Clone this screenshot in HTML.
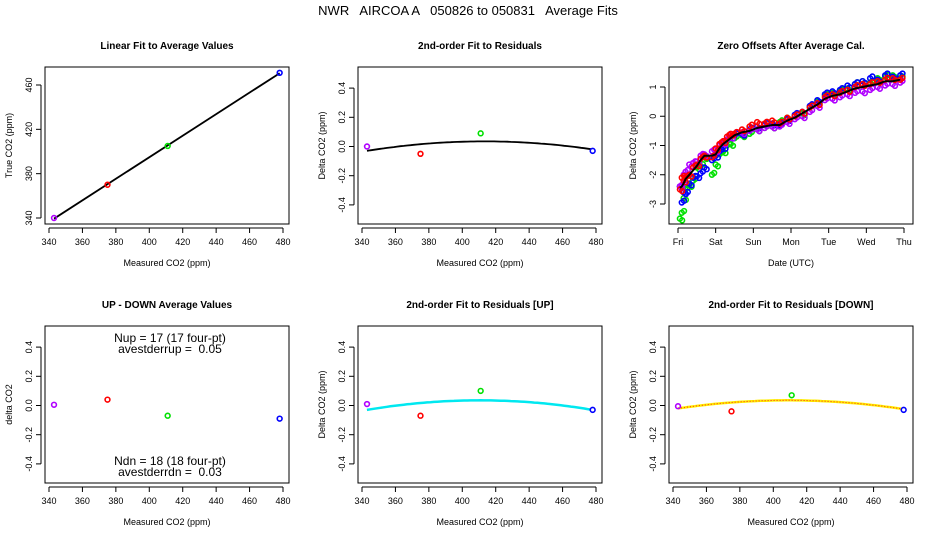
<!DOCTYPE html>
<html><head><meta charset="utf-8"><style>
html,body{margin:0;padding:0;background:#fff;}
svg{display:block;font-family:"Liberation Sans",sans-serif;}
</style></head><body>
<svg id="c" width="936" height="540" xmlns="http://www.w3.org/2000/svg">
<text x="468" y="15" text-anchor="middle" font-size="13" style="white-space:pre" xml:space="preserve">NWR   AIRCOA A   050826 to 050831   Average Fits</text>
</svg>
<script>
// Shared categories (measured CO2 averages per tank)
const measured = [343, 375, 411, 478];
const colors = ['#b000ff', '#ff0000', '#00e000', '#0000ff'];
// Panel 1: true vs measured
const trueVals = [340, 370, 405, 471];
// Panel 2: residuals
const resid = [0.00, -0.05, 0.09, -0.03];
const fitAll = [-0.03, 0.035, -0.02]; // values at 343, 415 (peak), 478
// Panel 4: up-down differences
const upDown = [0.005, 0.04, -0.07, -0.09];
// Panel 5: UP residuals
const residUp = [0.01, -0.07, 0.10, -0.03];
const fitUp = [-0.03, 0.035, -0.03];
// Panel 6: DOWN residuals
const residDn = [-0.005, -0.04, 0.07, -0.03];
const fitDn = [-0.02, 0.035, -0.025];
// Panel 3: zero offsets time series (days since Fri)
const days = [0.05,0.1,0.15,0.2,0.3,0.4,0.5,0.6,0.7,0.9,1.0,1.1,1.2,1.3,1.4,1.5,1.7,1.9,2.1,2.3,2.5,2.7,2.9,3.1,3.3,3.5,3.7,3.9,4.1,4.3,4.5,4.7,4.9,5.1,5.3,5.5,5.7,5.9];
const offBase = [-2.45,-2.4,-2.3,-2.15,-2.0,-1.85,-1.7,-1.5,-1.35,-1.35,-1.3,-1.1,-0.95,-0.85,-0.75,-0.65,-0.55,-0.5,-0.4,-0.35,-0.3,-0.3,-0.15,-0.05,0.1,0.25,0.4,0.6,0.7,0.75,0.85,0.95,1.0,1.05,1.1,1.2,1.2,1.25];
const offRed = [-2.5,-2.1,-2.2,-2.1,-2.0,-1.75,-1.65,-1.45,-1.35,-1.4,-1.1,-0.95,-0.85,-0.7,-0.6,-0.6,-0.45,-0.35,-0.2,-0.25,-0.15,-0.25,-0.05,0.0,0.15,0.3,0.45,0.65,0.75,0.8,0.9,1.0,1.1,1.1,1.2,1.25,1.3,1.25];
const offGreen = [-3.5,-3.3,-2.8,-2.5,-2.35,-2.2,-1.75,-1.7,-1.4,-2.0,-1.65,-1.3,-1.2,-1.0,-0.95,-0.75,-0.65,-0.6,-0.45,-0.4,-0.35,-0.2,-0.05,0.0,0.1,0.3,0.5,0.7,0.8,0.85,0.95,1.1,1.2,1.15,1.3,1.35,1.4,1.3];
const offBlue = [-2.4,-2.95,-2.6,-2.65,-2.3,-2.1,-2.05,-1.95,-1.75,-1.5,-1.35,-1.2,-1.05,-0.8,-0.7,-0.65,-0.6,-0.45,-0.35,-0.3,-0.25,-0.3,-0.1,0.05,0.15,0.35,0.55,0.75,0.85,0.9,1.05,1.1,1.2,1.3,1.25,1.4,1.35,1.4];
const offMag = [-2.4,-2.35,-2.0,-1.9,-1.65,-1.6,-1.55,-1.35,-1.3,-1.2,-1.15,-1.0,-0.9,-0.8,-0.7,-0.6,-0.55,-0.5,-0.45,-0.4,-0.35,-0.35,-0.2,-0.1,0.0,0.15,0.35,0.55,0.6,0.65,0.75,0.8,0.85,0.9,1.0,1.05,1.1,1.15];
const dayLabels = ['Fri','Sat','Sun','Mon','Tue','Wed','Thu'];
const co2Ticks = [340,360,380,400,420,440,460,480];
const residTicks = ['-0.4','-0.2','0.0','0.2','0.4'];
const trueTicks = [340,380,420,460];
const offTicks = [-3,-2,-1,0,1];

const NS='http://www.w3.org/2000/svg';
const svg=document.getElementById('c');
function mk(tag,attrs,parent){const e=document.createElementNS(NS,tag);for(const k in attrs)e.setAttribute(k,attrs[k]);(parent||svg).appendChild(e);return e;}

function panel(left,top,name,title,xlab,ylab){
  const g=mk('g',{});
  
  
  const W=244,H=157;
  const box=mk('rect',{x:left,y:top,width:W,height:H,fill:'none',stroke:'#000','stroke-width':1},g);
  
  
  const t=mk('text',{x:left+W/2,y:top-18,'text-anchor':'middle','font-size':10,'font-weight':'bold'},g);t.textContent=title;
  
  
  const xl=mk('text',{x:left+W/2,y:top+H+42,'text-anchor':'middle','font-size':9},g);xl.textContent=xlab;
  
  
  const yl=mk('text',{x:0,y:0,'text-anchor':'middle','font-size':9,transform:`translate(${left-33},${top+H/2}) rotate(-90)`},g);yl.textContent=ylab;
  
  
  return {g,left,top,W,H};
}
function xTicks(p,vals,labels,sx){
  const xs=vals.map(sx);
  mk('line',{x1:xs[0],x2:xs[xs.length-1],y1:p.top+p.H+4,y2:p.top+p.H+4,stroke:'#000'},p.g);
  vals.forEach((v,i)=>{const x=sx(v);mk('line',{x1:x,x2:x,y1:p.top+p.H+4,y2:p.top+p.H+9,stroke:'#000'},p.g);
    const t=mk('text',{x:x,y:p.top+p.H+21,'text-anchor':'middle','font-size':9},p.g);t.textContent=labels[i];
    
    });
}
function yTicks(p,vals,labels,sy){
  const ys=vals.map(sy);
  mk('line',{x1:p.left-4,x2:p.left-4,y1:ys[0],y2:ys[ys.length-1],stroke:'#000'},p.g);
  vals.forEach((v,i)=>{const y=sy(v);mk('line',{x1:p.left-9,x2:p.left-4,y1:y,y2:y,stroke:'#000'},p.g);
    const t=mk('text',{x:0,y:0,'text-anchor':'middle','font-size':9,transform:`translate(${p.left-13},${y}) rotate(-90)`},p.g);t.textContent=labels[i];
    
    });
}
function pt(p,x,y,col,name){
  const c=mk('circle',{cx:x,cy:y,r:2.4,fill:'none',stroke:col,'stroke-width':1.6},p.g);
  
  
}
function quad(f){ // quadratic through (343,f0),(415,f1),(478,f2)
  const xs=[343,415,478];
  return x=>{let s=0;for(let i=0;i<3;i++){let l=1;for(let j=0;j<3;j++)if(j!==i)l*=(x-xs[j])/(xs[i]-xs[j]);s+=f[i]*l;}return s;};
}
function curve(p,sx,sy,f,stroke,w,dash){
  let d='';for(let x=343;x<=478;x+=2){d+=(d?'L':'M')+sx(x).toFixed(1)+','+sy(f(x)).toFixed(1);}
  const e=mk('path',{d,fill:'none',stroke,'stroke-width':w},p.g);
  if(dash)e.setAttribute('stroke-dasharray',dash);
  
  
  return e;
}
function residPanel(left,top,name,title,vals,fit,style,ylab){
  const p=panel(left,top,name,title,'Measured CO2 (ppm)',ylab);
  const sx=v=>left+4+(v-340)*234/140, sy=v=>top+79.5-v*146;
  xTicks(p,co2Ticks,co2Ticks.map(String),sx);
  yTicks(p,residTicks.map(Number),residTicks,sy);
  if(fit){const f=quad(fit);
    if(style==='black')curve(p,sx,sy,f,'#000',1.8);
    if(style==='cyan'){curve(p,sx,sy,f,'#000',1.5);curve(p,sx,sy,f,'#00e8f0',2.5);}
    if(style==='yellow'){curve(p,sx,sy,f,'#000',1.5);curve(p,sx,sy,f,'#ffee00',2.5);curve(p,sx,sy,f,'#ff2020',1,'1,2');}
  }
  vals.forEach((v,i)=>pt(p,sx(measured[i]),sy(v),colors[i],'point-'+measured[i]));
  return {p,sx,sy};
}

// Panel 1
(function(){
  const p=panel(45,67,'linear-fit-panel','Linear Fit to Average Values','Measured CO2 (ppm)','True CO2 (ppm)');
  const sx=v=>49+(v-340)*234/140, sy=v=>218-(v-340)*133/120;
  xTicks(p,co2Ticks,co2Ticks.map(String),sx);
  yTicks(p,trueTicks,trueTicks.map(String),sy);
  const n=measured.length;let mx=0,my=0;measured.forEach((m,i)=>{mx+=m;my+=trueVals[i];});mx/=n;my/=n;
  let sxy=0,sxx=0;measured.forEach((m,i)=>{sxy+=(m-mx)*(trueVals[i]-my);sxx+=(m-mx)*(m-mx);});
  const b=sxy/sxx,a=my-b*mx;
  const l=mk('line',{x1:sx(343),y1:sy(a+b*343),x2:sx(478),y2:sy(a+b*478),stroke:'#000','stroke-width':1.8},p.g);
  
  
  measured.forEach((m,i)=>pt(p,sx(m),sy(trueVals[i]),colors[i],'point-'+m));
})();

// Panel 2
residPanel(358,67,'residual-fit-panel','2nd-order Fit to Residuals',resid,fitAll,'black','Delta CO2 (ppm)');

// Panel 3
(function(){
  const p=panel(669,67,'zero-offsets-panel','Zero Offsets After Average Cal.','Date (UTC)','Delta CO2 (ppm)');
  const sx=d=>678+d*226/6, sy=v=>116.25-v*29.25;
  xTicks(p,dayLabels.map((_,i)=>i),dayLabels,sx);
  yTicks(p,offTicks,offTicks.map(String),sy);
  const series=[offMag,offRed,offGreen,offBlue];
  const order=[2,3,0,1];
  order.forEach(si=>{series[si].forEach((v,i)=>{
    const jit=[-0.02,0.02];
    pt(p,sx(days[i]),sy(v),colors[si],'offset-point');
    pt(p,sx(days[i]+0.06),sy(v+jit[i%2]*3),colors[si],'offset-point');
  });});
  let d='';offBase.forEach((v,i)=>{d+=(d?'L':'M')+sx(days[i]).toFixed(1)+','+sy(v).toFixed(1);});
  const e=mk('path',{d,fill:'none',stroke:'#000','stroke-width':2},p.g);
  
  
})();

// Panel 4
(function(){
  const r=residPanel(45,326,'up-down-panel','UP - DOWN Average Values',upDown,null,null,'delta CO2');
  const lines=[['Nup = 17 (17 four-pt)',342],['avestderrup =  0.05',353],['Ndn = 18 (18 four-pt)',465],['avestderrdn =  0.03',476]];
  lines.forEach(([s,y])=>{const t=mk('text',{x:170,y:y,'text-anchor':'middle','font-size':12,style:'white-space:pre'},r.p.g);t.textContent=s;
    
    });
})();
// Panel 5, 6
residPanel(358,326,'residual-up-panel','2nd-order Fit to Residuals [UP]',residUp,fitUp,'cyan','Delta CO2 (ppm)');
residPanel(669,326,'residual-down-panel','2nd-order Fit to Residuals [DOWN]',residDn,fitDn,'yellow','Delta CO2 (ppm)');
</script>
</body></html>
